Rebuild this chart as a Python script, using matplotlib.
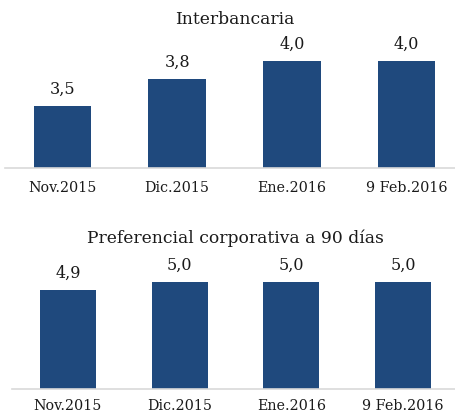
import matplotlib.pyplot as plt

# Datos
categorias = ["Nov.2015", "Dic.2015", "Ene.2016", "9 Feb.2016"]
interbancaria = [3.5, 3.8, 4.0, 4.0]
preferencial = [4.9, 5.0, 5.0, 5.0]
etiquetas_inter = ["3,5", "3,8", "4,0", "4,0"]
etiquetas_pref = ["4,9", "5,0", "5,0", "5,0"]

plt.rcParams['font.family'] = ['DejaVu Serif']
color_barra = '#1F497D'
color_texto = '#1a1a1a'

W, H = 455, 416
fig = plt.figure(figsize=(W / 100, H / 100), dpi=100)

def px(x0, y0, x1, y1):
    # caja en pixeles (desde arriba) -> fracciones de figura
    return [x0 / W, 1 - y1 / H, (x1 - x0) / W, (y1 - y0) / H]

def panel(rect, valores, etiquetas, ymin, ymax, titulo, ty, pad):
    ax = fig.add_axes(px(*rect))
    x = range(len(categorias))
    ax.bar(x, valores, width=0.5, color=color_barra)
    for xi, v, e in zip(x, valores, etiquetas):
        ax.annotate(e, (xi, v), xytext=(0, 6), textcoords='offset points',
                    ha='center', va='bottom', fontsize=11.5, color=color_texto)
    ax.set_ylim(ymin, ymax)
    ax.set_xlim(-0.5, len(categorias) - 0.5)
    ax.set_xticks(list(x))
    ax.set_xticklabels(categorias, fontsize=10.3, color=color_texto)
    ax.tick_params(axis='x', length=0, pad=pad)
    ax.set_yticks([])
    for s in ['top', 'right', 'left']:
        ax.spines[s].set_visible(False)
    ax.spines['bottom'].set_color('#d9d9d9')
    ax.spines['bottom'].set_linewidth(1.2)
    fig.text((rect[0] + rect[2]) / 2 / W, 1 - ty / H, titulo,
             ha='center', va='center', fontsize=12.3, color=color_texto)
    return ax

panel((5, 40, 464, 168), interbancaria, etiquetas_inter, 2.81, 4.23,
      "Interbancaria", 19, 9)
panel((12, 250, 459, 389), preferencial, etiquetas_pref, 3.66, 5.40,
      "Preferencial corporativa a 90 días", 238, 7)

plt.savefig("out.png", dpi=100)
